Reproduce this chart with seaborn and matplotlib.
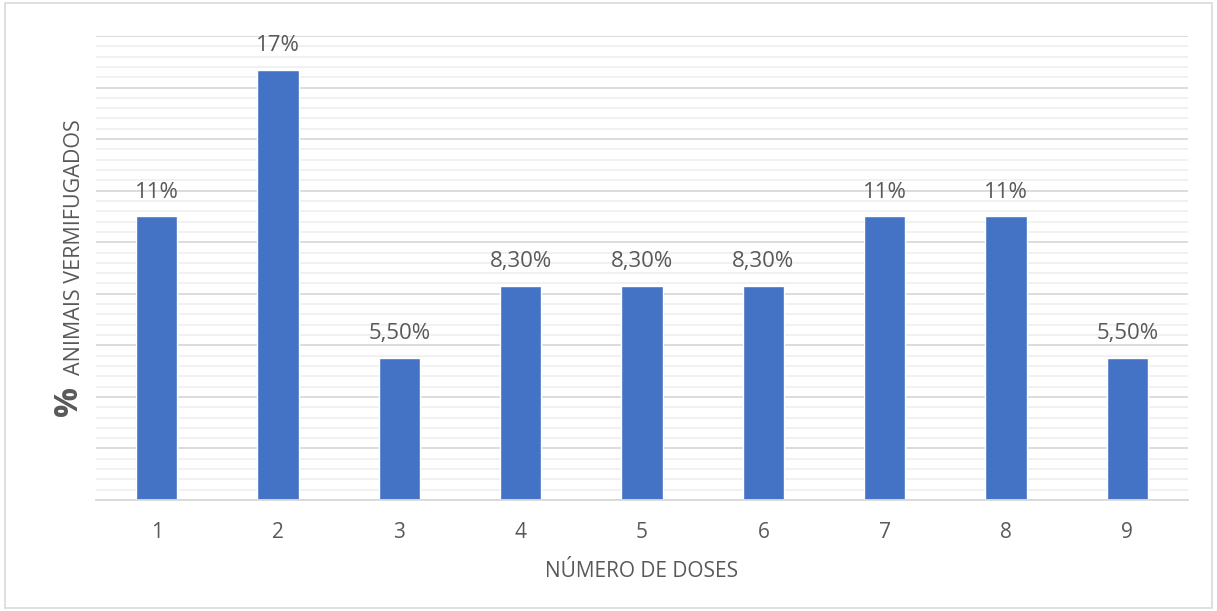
import matplotlib
matplotlib.use("Agg")
import matplotlib.pyplot as plt
import seaborn as sns
import pandas as pd
import numpy as np
from matplotlib.patches import Rectangle
from matplotlib.ticker import MultipleLocator

doses = ["1", "2", "3", "4", "5", "6", "7", "8", "9"]
percent = [11.0, 16.7, 5.5, 8.3, 8.3, 8.3, 11.0, 11.0, 5.5]
value_labels = ["11%", "17%", "5,50%", "8,30%", "8,30%", "8,30%", "11%", "11%", "5,50%"]

sns.set_theme(style="white")
plt.rcParams['font.family'] = ['Open Sans', 'DejaVu Sans']

TXT = "#595959"
BAR = "#4472C4"

fig = plt.figure(figsize=(12.17, 6.11), dpi=100)
ax = fig.add_axes([96/1217, 1 - 500/611, (1188-96)/1217, (500-36)/611])

df = pd.DataFrame({"dose": doses, "pct": percent})
sns.barplot(data=df, x="dose", y="pct", color=BAR, width=0.34, ax=ax, saturation=1)

ax.set_ylim(0, 18)
ax.set_xlim(-0.5, len(doses) - 0.5)
ax.yaxis.set_major_locator(MultipleLocator(2))
ax.yaxis.set_minor_locator(MultipleLocator(0.4))
ax.grid(axis="y", which="major", color="#D9D9D9", linewidth=1.3)
ax.grid(axis="y", which="minor", color="#F0F0F0", linewidth=1.3)
ax.set_axisbelow(True)
ax.tick_params(axis="y", which="both", left=False, labelleft=False)
ax.tick_params(axis="x", length=0, labelsize=15, labelcolor=TXT, pad=16)
for s in ["top", "right", "left"]:
    ax.spines[s].set_visible(False)
ax.spines["bottom"].set_color("#D9D9D9")
ax.spines["bottom"].set_linewidth(1.3)

ax.set_xlabel("NÚMERO DE DOSES", fontsize=15, color=TXT, labelpad=13)
ax.set_ylabel("")

for i, (v, lab) in enumerate(zip(percent, value_labels)):
    ax.annotate(lab, (i, v), xytext=(0, 10), textcoords="offset points",
                ha="center", va="bottom", fontsize=16, color=TXT)

fig.text(74/1217, 1 - 247/611, "ANIMAIS VERMIFUGADOS", rotation=90,
         ha="center", va="center", fontsize=15.5, color=TXT)
fig.text(68/1217, 1 - 401/611, "%", rotation=90, ha="center", va="center",
         fontsize=24, fontweight="bold", color=TXT)

fig.patches.append(Rectangle((5/1217, 3/611), 1207/1217, 605/611,
                             transform=fig.transFigure, fill=False,
                             edgecolor="#D9D9D9", linewidth=1.2))

fig.savefig("out.png", dpi=100, facecolor="white")
